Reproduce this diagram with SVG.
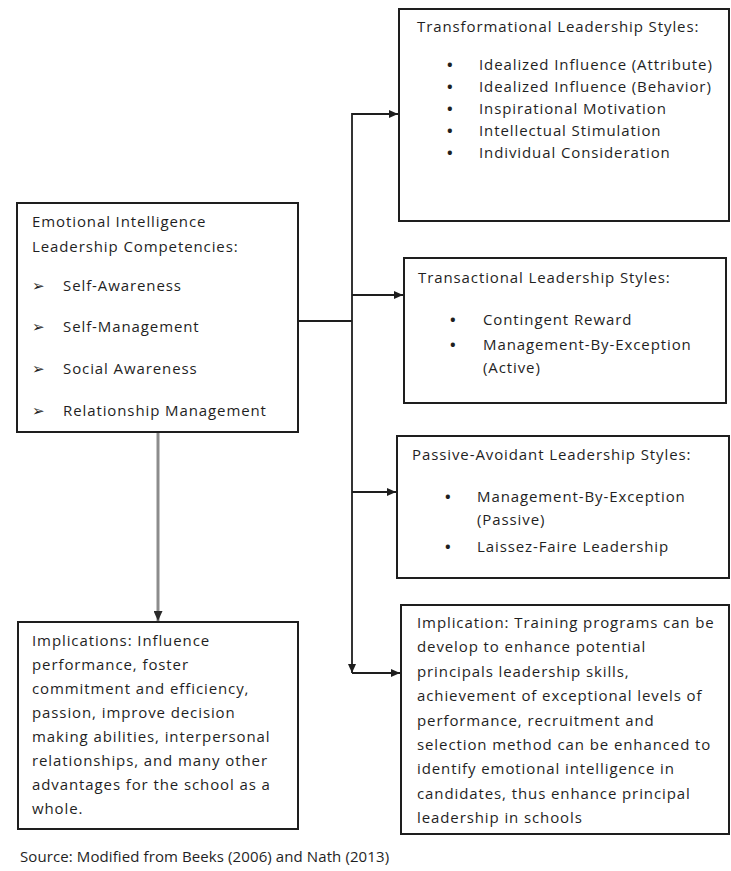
<svg xmlns="http://www.w3.org/2000/svg" width="731" height="871" viewBox="0 0 731 871">
<style>
  .box{fill:#ffffff;stroke:#1e1e1e;stroke-width:2}
  .t{font-family:"Open Sans","Liberation Sans",sans-serif;font-size:15px;fill:#1f1f1f;letter-spacing:0.9px}
  .b{font-family:"Open Sans","Liberation Sans",sans-serif;font-size:15px;font-weight:bold;fill:#1f1f1f}
  .src{letter-spacing:0.1px}
  .ln{stroke:#1e1e1e;stroke-width:1.8;fill:none}
  .gray{stroke:#8c8c8c;stroke-width:3;fill:none}
</style>
<defs>
  <marker id="ah" markerUnits="userSpaceOnUse" markerWidth="9" markerHeight="8" refX="9" refY="4" orient="auto">
    <path d="M0,0 L9,4 L0,8 z" fill="#1e1e1e"/>
  </marker>
  <marker id="ahg" markerUnits="userSpaceOnUse" markerWidth="10" markerHeight="9" refX="10" refY="4.5" orient="auto">
    <path d="M0,0 L10,4.5 L0,9 z" fill="#2a2a2a"/>
  </marker>
</defs>
<rect width="731" height="871" fill="#ffffff"/>

<g id="connectors">
  <line class="ln" x1="298" y1="321" x2="352" y2="321"/>
  <line class="ln" x1="352" y1="113" x2="352" y2="673" marker-end="url(#ah)"/>
  <line class="ln" x1="352" y1="114" x2="398" y2="114" marker-end="url(#ah)"/>
  <line class="ln" x1="352" y1="295" x2="403" y2="295" marker-end="url(#ah)"/>
  <line class="ln" x1="352" y1="492" x2="396" y2="492" marker-end="url(#ah)"/>
  <line class="ln" x1="352" y1="673" x2="400" y2="673" marker-end="url(#ah)"/>
  <line class="gray" x1="158" y1="432" x2="158" y2="621" marker-end="url(#ahg)"/>
</g>

<g id="ei">
  <rect class="box" x="17" y="203" width="281" height="229"/>
  <text class="t" x="32" y="227">Emotional Intelligence</text>
  <text class="t" x="32" y="252">Leadership Competencies:</text>
  <text class="t" x="32" y="291">➢</text><text class="t" x="63" y="291">Self-Awareness</text>
  <text class="t" x="32" y="332">➢</text><text class="t" x="63" y="332">Self-Management</text>
  <text class="t" x="32" y="374">➢</text><text class="t" x="63" y="374">Social Awareness</text>
  <text class="t" x="32" y="416">➢</text><text class="t" x="63" y="416">Relationship Management</text>
</g>

<g id="transformational">
  <rect class="box" x="399" y="9" width="330" height="212"/>
  <text class="t" x="417" y="32">Transformational Leadership Styles:</text>
  <text class="b" x="447" y="70">•</text><text class="t" x="479" y="70">Idealized Influence (Attribute)</text>
  <text class="b" x="447" y="92">•</text><text class="t" x="479" y="92">Idealized Influence (Behavior)</text>
  <text class="b" x="447" y="114">•</text><text class="t" x="479" y="114">Inspirational Motivation</text>
  <text class="b" x="447" y="136">•</text><text class="t" x="479" y="136">Intellectual Stimulation</text>
  <text class="b" x="447" y="158">•</text><text class="t" x="479" y="158">Individual Consideration</text>
</g>

<g id="transactional">
  <rect class="box" x="404" y="258" width="322" height="145"/>
  <text class="t" x="418" y="283">Transactional Leadership Styles:</text>
  <text class="b" x="450" y="325">•</text><text class="t" x="483" y="325">Contingent Reward</text>
  <text class="b" x="450" y="350">•</text><text class="t" x="483" y="350">Management-By-Exception</text>
  <text class="t" x="483" y="373">(Active)</text>
</g>

<g id="passive">
  <rect class="box" x="397" y="436" width="332" height="142"/>
  <text class="t" x="412" y="460">Passive-Avoidant Leadership Styles:</text>
  <text class="b" x="445" y="502">•</text><text class="t" x="477" y="502">Management-By-Exception</text>
  <text class="t" x="477" y="525">(Passive)</text>
  <text class="b" x="445" y="552">•</text><text class="t" x="477" y="552">Laissez-Faire Leadership</text>
</g>

<g id="implications-left">
  <rect class="box" x="18" y="622" width="280" height="207"/>
  <text class="t" x="32" y="646">Implications: Influence</text>
  <text class="t" x="32" y="670">performance, foster</text>
  <text class="t" x="32" y="694">commitment and efficiency,</text>
  <text class="t" x="32" y="718">passion, improve decision</text>
  <text class="t" x="32" y="742">making abilities, interpersonal</text>
  <text class="t" x="32" y="766">relationships, and many other</text>
  <text class="t" x="32" y="790">advantages for the school as a</text>
  <text class="t" x="32" y="814">whole.</text>
</g>

<g id="implication-right">
  <rect class="box" x="401" y="605" width="328" height="229"/>
  <text class="t" x="417" y="628">Implication: Training programs can be</text>
  <text class="t" x="417" y="652">develop to enhance potential</text>
  <text class="t" x="417" y="677">principals leadership skills,</text>
  <text class="t" x="417" y="701">achievement of exceptional levels of</text>
  <text class="t" x="417" y="726">performance, recruitment and</text>
  <text class="t" x="417" y="750">selection method can be enhanced to</text>
  <text class="t" x="417" y="774">identify emotional intelligence in</text>
  <text class="t" x="417" y="799">candidates, thus enhance principal</text>
  <text class="t" x="417" y="823">leadership in schools</text>
</g>

<g id="source">
  <text class="t src" x="20" y="862">Source: Modified from Beeks (2006) and Nath (2013)</text>
</g>
</svg>
